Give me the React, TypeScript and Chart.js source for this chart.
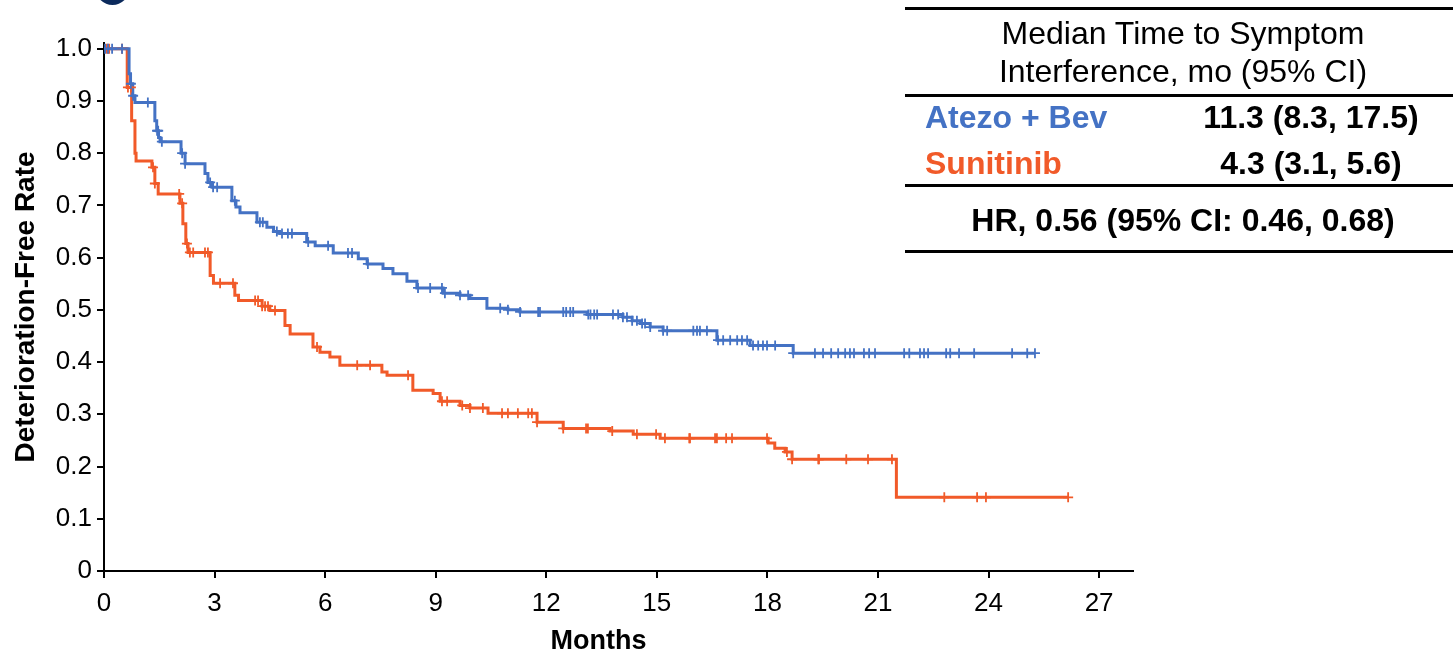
import React, { useEffect, useRef } from "react";
import { Chart, registerables } from "chart.js";

Chart.register(...registerables);

const FONT = '"Liberation Sans", Arial, Helvetica, sans-serif';
const BLUE = "#4472C4";
const ORANGE = "#F15A29";

// Axis ticks
const xTicks = [0, 3, 6, 9, 12, 15, 18, 21, 24, 27];
const yTicks = [0, 0.1, 0.2, 0.3, 0.4, 0.5, 0.6, 0.7, 0.8, 0.9, 1.0];
const xTitle = "Months";
const yTitle = "Deterioration-Free Rate";

// Atezo + Bev Kaplan-Meier steps (months, rate)
const atezoTimes = [0, 0.68, 0.72, 0.78, 0.84, 1.38, 1.43, 1.48, 1.52, 2.09, 2.2, 2.74, 2.82, 2.93, 3.47, 3.58, 3.69, 4.15, 4.42, 4.6, 4.77, 5.5, 5.73, 6.22, 6.9, 7.14, 7.57, 7.84, 8.22, 8.49, 9.2, 9.66, 9.93, 10.39, 10.96, 11.29, 13.11, 14.08, 14.33, 14.55, 14.82, 15.17, 16.63, 17.53, 18.7];
const atezoSurv = [1.0, 0.952, 0.933, 0.91, 0.897, 0.862, 0.843, 0.83, 0.822, 0.8, 0.78, 0.761, 0.744, 0.735, 0.709, 0.697, 0.686, 0.668, 0.658, 0.65, 0.646, 0.63, 0.623, 0.609, 0.598, 0.588, 0.579, 0.569, 0.555, 0.542, 0.532, 0.528, 0.522, 0.503, 0.5, 0.496, 0.491, 0.486, 0.479, 0.474, 0.467, 0.46, 0.442, 0.432, 0.417];
const atezoEnd = 25.26;
const atezoCensor = [0.03, 0.11, 0.22, 0.49, 0.73, 0.79, 1.19, 1.44, 1.47, 1.57, 2.12, 2.2, 2.88, 2.96, 3.07, 3.55, 4.23, 4.31, 4.69, 4.83, 4.99, 5.1, 5.54, 6.08, 6.62, 6.73, 7.16, 8.52, 8.85, 9.17, 9.25, 9.66, 9.88, 10.75, 10.96, 11.29, 11.78, 11.83, 12.46, 12.54, 12.65, 12.73, 13.14, 13.2, 13.3, 13.38, 13.81, 13.95, 14.08, 14.19, 14.33, 14.46, 14.6, 14.68, 14.82, 15.17, 15.28, 15.99, 16.09, 16.17, 16.36, 16.66, 16.8, 16.99, 17.18, 17.31, 17.45, 17.61, 17.75, 17.88, 17.99, 18.21, 18.7, 19.29, 19.51, 19.73, 19.92, 20.11, 20.24, 20.35, 20.62, 20.76, 20.92, 21.71, 21.85, 22.14, 22.25, 22.36, 22.85, 22.96, 23.2, 23.61, 24.64, 25.05, 25.26];

// Sunitinib Kaplan-Meier steps (months, rate)
const sunTimes = [0, 0.63, 0.75, 0.84, 0.87, 1.3, 1.38, 1.47, 2.06, 2.14, 2.22, 2.28, 2.88, 2.97, 3.55, 3.65, 4.29, 4.5, 4.91, 5.05, 5.67, 5.86, 6.13, 6.4, 7.54, 7.68, 8.38, 8.93, 9.12, 9.66, 9.93, 10.42, 11.75, 12.46, 13.73, 14.36, 15.09, 18.02, 18.2, 18.48, 18.67, 21.5];
const sunSurv = [1.0, 0.926, 0.862, 0.8, 0.785, 0.773, 0.742, 0.722, 0.704, 0.665, 0.627, 0.61, 0.566, 0.551, 0.528, 0.518, 0.507, 0.499, 0.47, 0.454, 0.429, 0.419, 0.41, 0.394, 0.381, 0.375, 0.346, 0.34, 0.325, 0.317, 0.312, 0.302, 0.285, 0.273, 0.268, 0.262, 0.254, 0.245, 0.235, 0.228, 0.214, 0.141];
const sunEnd = 26.16;
const sunCensor = [0.08, 0.14, 0.49, 0.65, 0.73, 1.33, 1.38, 2.04, 2.12, 2.25, 2.33, 2.42, 2.74, 2.82, 3.15, 3.5, 4.1, 4.18, 4.29, 4.37, 4.45, 4.64, 5.78, 6.87, 7.22, 8.25, 9.17, 9.31, 9.72, 9.93, 10.28, 10.8, 10.96, 11.23, 11.51, 11.61, 11.75, 12.46, 13.08, 13.13, 13.79, 14.46, 14.98, 15.22, 15.88, 15.9, 16.58, 16.63, 16.88, 17.04, 17.99, 18.53, 18.67, 19.38, 19.4, 20.14, 20.73, 21.38, 22.8, 23.69, 23.93, 26.16];

// Table texts
const tableHeader = ["Median Time to Symptom", "Interference, mo (95% CI)"];
const armNames = ["Atezo + Bev", "Sunitinib"];
const armMedians = ["11.3 (8.3, 17.5)", "4.3 (3.1, 5.6)"];
const hrText = "HR, 0.56 (95% CI: 0.46, 0.68)";

function stepAt(times: number[], surv: number[], t: number): number {
  let v = surv[0];
  for (let i = 0; i < times.length; i++) {
    if (times[i] <= t) v = surv[i];
  }
  return v;
}

function curvePoints(times: number[], surv: number[], end: number) {
  const pts = times.map((t, i) => ({ x: t, y: surv[i] }));
  pts.push({ x: end, y: surv[surv.length - 1] });
  return pts;
}

function censorPoints(times: number[], surv: number[], cens: number[]) {
  return cens.map((t) => ({ x: t, y: stepAt(times, surv, t) }));
}

const xTitlePlugin = {
  id: "xTitlePlugin",
  afterDraw(chart: any) {
    const xs = chart.scales.x;
    const ctx = chart.ctx;
    ctx.save();
    ctx.font = `bold 27px ${FONT}`;
    ctx.fillStyle = "#000";
    ctx.textAlign = "center";
    ctx.textBaseline = "middle";
    const cx = (xs.getPixelForValue(xTicks[0]) + xs.getPixelForValue(xTicks[xTicks.length - 1])) / 2;
    ctx.fillText(xTitle, cx - 3, xs.bottom - 10);
    ctx.restore();
  },
};

export default function App() {
  const canvasRef = useRef<HTMLCanvasElement | null>(null);

  useEffect(() => {
    if (!canvasRef.current) return;
    const chart = new Chart(canvasRef.current, {
      type: "line",
      data: {
        datasets: [
          {
            label: "Atezo + Bev censored",
            type: "scatter",
            data: censorPoints(atezoTimes, atezoSurv, atezoCensor),
            pointStyle: "cross",
            pointRadius: 5,
            pointBorderWidth: 1.8,
            borderColor: BLUE,
            backgroundColor: BLUE,
            showLine: false,
          } as any,
          {
            label: "Sunitinib censored",
            type: "scatter",
            data: censorPoints(sunTimes, sunSurv, sunCensor),
            pointStyle: "cross",
            pointRadius: 5,
            pointBorderWidth: 1.8,
            borderColor: ORANGE,
            backgroundColor: ORANGE,
            showLine: false,
          } as any,
          {
            label: "Atezo + Bev",
            data: curvePoints(atezoTimes, atezoSurv, atezoEnd),
            borderColor: BLUE,
            borderWidth: 3,
            pointRadius: 0,
            stepped: true,
            fill: false,
          },
          {
            label: "Sunitinib",
            data: curvePoints(sunTimes, sunSurv, sunEnd),
            borderColor: ORANGE,
            borderWidth: 3,
            pointRadius: 0,
            stepped: true,
            fill: false,
          },
        ],
      },
      options: {
        responsive: false,
        animation: false,
        devicePixelRatio: 1,
        layout: { padding: { top: 43, right: 320, bottom: 0, left: 0 } },
        plugins: {
          legend: { display: false },
          tooltip: { enabled: false },
          title: { display: false },
        },
        scales: {
          x: {
            type: "linear",
            min: 0,
            max: 27.92,
            afterBuildTicks: (s: any) => {
              s.ticks = xTicks.map((v) => ({ value: v }));
            },
            afterFit: (s: any) => {
              s.height = 81;
            },
            ticks: {
              color: "#000",
              font: { family: FONT, size: 26 },
              padding: 10,
              maxRotation: 0,
              autoSkip: false,
              callback: (v: any) => String(v),
            },
            grid: {
              display: true,
              drawOnChartArea: false,
              drawTicks: true,
              tickLength: 7,
              color: "#000",
              lineWidth: 2,
            },
            border: { display: true, color: "#000", width: 2 },
          },
          y: {
            type: "linear",
            min: 0,
            max: 1.011,
            afterBuildTicks: (s: any) => {
              s.ticks = yTicks.map((v) => ({ value: v }));
            },
            afterFit: (s: any) => {
              s.width = 104;
            },
            ticks: {
              color: "#000",
              font: { family: FONT, size: 26 },
              padding: 5,
              autoSkip: false,
              callback: (v: any) => (Number(v) === 0 ? "0" : Number(v).toFixed(1)),
            },
            grid: {
              display: true,
              drawOnChartArea: false,
              drawTicks: true,
              tickLength: 7,
              color: "#000",
              lineWidth: 2,
            },
            border: { display: true, color: "#000", width: 2 },
            title: {
              display: true,
              text: yTitle,
              color: "#000",
              font: { family: FONT, size: 28, weight: "bold" },
              padding: { top: 9, bottom: 0 },
            },
          },
        },
      },
      plugins: [xTitlePlugin],
    });
    return () => chart.destroy();
  }, []);

  const line = (top: number) => (
    <div style={{ position: "absolute", left: 905, top, width: 548, height: 3, background: "#000" }} />
  );
  const text = (
    content: string,
    cx: number | null,
    cy: number,
    opts: { bold?: boolean; color?: string; left?: number }
  ) => (
    <div
      style={{
        position: "absolute",
        left: opts.left !== undefined ? opts.left : (cx as number) - 300,
        width: opts.left !== undefined ? undefined : 600,
        top: cy - 20,
        height: 40,
        lineHeight: "40px",
        textAlign: opts.left !== undefined ? "left" : "center",
        fontFamily: FONT,
        fontSize: 32,
        fontWeight: opts.bold ? "bold" : "normal",
        color: opts.color || "#000",
        whiteSpace: "nowrap",
      }}
    >
      {content}
    </div>
  );

  return (
    <div style={{ position: "fixed", left: 0, top: 0, width: 1453, height: 652, background: "#fff", overflow: "hidden" }}>
      <div
        style={{
          position: "absolute",
          left: 96,
          top: -27,
          width: 33,
          height: 32,
          borderRadius: "50%",
          background: "#0B2A5C",
        }}
      />
      <canvas ref={canvasRef} width={1453} height={652} style={{ position: "absolute", left: 0, top: 0 }} />
      {line(7)}
      {text(tableHeader[0], 1183, 33, {})}
      {text(tableHeader[1], 1183, 71, {})}
      {line(94)}
      {text(armNames[0], null, 117, { bold: true, color: BLUE, left: 925 })}
      {text(armMedians[0], 1311, 117, { bold: true })}
      {text(armNames[1], null, 163, { bold: true, color: ORANGE, left: 925 })}
      {text(armMedians[1], 1311, 163, { bold: true })}
      {line(184)}
      {text(hrText, 1183, 220, { bold: true })}
      {line(250)}
    </div>
  );
}
